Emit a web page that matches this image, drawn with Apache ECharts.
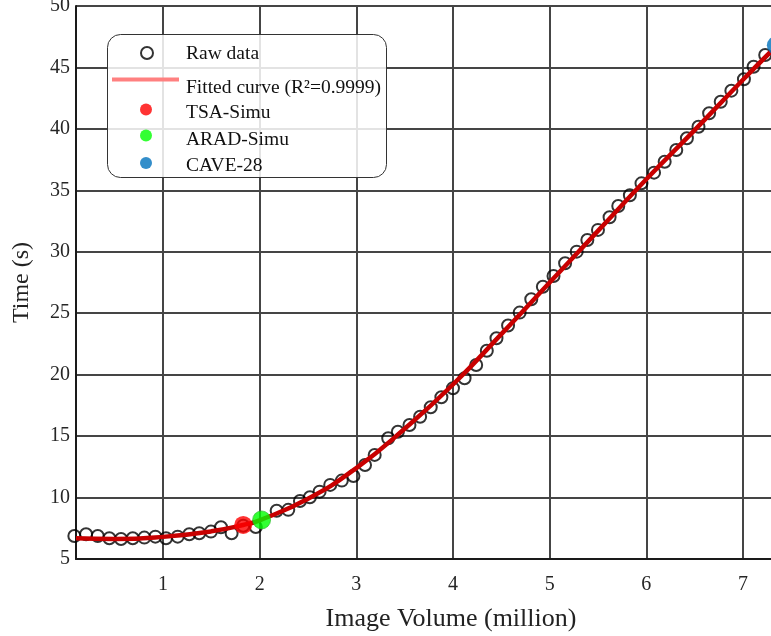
<!DOCTYPE html>
<html>
<head>
<meta charset="utf-8">
<script src="https://cdn.jsdelivr.net/npm/echarts@6/dist/echarts.min.js"></script>
<style>
  html, body { margin: 0; padding: 0; background: #fff; }
  #chart { width: 771px; height: 636px; }
</style>
</head>
<body>
<div id="chart"></div>
<script>
// raw measurements
var rawX = [0.083, 0.204, 0.325, 0.445, 0.566, 0.687, 0.807, 0.921, 1.031, 1.152, 1.272, 1.375, 1.496, 1.600, 1.710, 1.830, 1.960,
  2.176, 2.296, 2.417, 2.520, 2.620, 2.730, 2.850, 2.970, 3.090, 3.190,
  3.330, 3.430, 3.550, 3.660, 3.770, 3.880, 4.000, 4.120, 4.240, 4.350, 4.450, 4.570,
  4.690, 4.810, 4.930, 5.040, 5.160, 5.280, 5.390, 5.500, 5.620, 5.710, 5.830,
  5.950, 6.080, 6.190, 6.310, 6.420, 6.540, 6.650, 6.770, 6.880, 7.010, 7.110, 7.230];
var rawY = [6.87, 7.01, 6.87, 6.69, 6.63, 6.69, 6.74, 6.82, 6.69, 6.82, 7.01, 7.10, 7.23, 7.58, 7.10, 7.70, 7.60,
  8.93, 9.00, 9.72, 10.02, 10.48, 11.03, 11.38, 11.76, 12.65, 13.47,
  14.83, 15.36, 15.91, 16.58, 17.35, 18.16, 18.89, 19.71, 20.79, 21.95, 22.96, 24.00,
  25.05, 26.14, 27.16, 28.03, 29.07, 30.01, 30.96, 31.78, 32.81, 33.73, 34.60,
  35.57, 36.44, 37.33, 38.28, 39.24, 40.18, 41.27, 42.21, 43.11, 44.04, 45.06, 46.01];

// fitted curve
var fitX = [0.1, 0.5, 1.0, 1.5, 1.83, 2.0, 2.5, 3.0, 3.5, 4.0, 4.5, 5.0, 5.5, 6.0, 6.5, 7.0, 7.29];
var fitY = [6.68, 6.62, 6.8, 7.25, 7.77, 8.15, 9.9, 12.4, 15.6, 19.2, 23.3, 27.5, 31.7, 35.9, 39.9, 44.0, 46.3];

// datasets
var tsaPoint = [1.83, 7.77];
var aradPoint = [2.02, 8.18];
var cavePoint = [7.34, 46.8];

var xTicks = [1, 2, 3, 4, 5, 6, 7];
var fitName = 'Fitted curve (R\u00B2=0.9999)';

var serif = 'Liberation Serif';

function zip(xs, ys) {
  return xs.map(function (x, i) { return [x, ys[i]]; });
}

// legend made of separate pieces so icon and text can sit like matlab's
function iconLegend(name, left, top, w, h, icon, itemStyle) {
  return {
    left: left, top: top, padding: 0,
    itemWidth: w, itemHeight: h,
    selectedMode: false,
    formatter: function () { return ''; },
    textStyle: { fontSize: 2, lineHeight: 2 },
    data: [{ name: name, icon: icon, itemStyle: itemStyle }]
  };
}
function textLegend(name, top) {
  return {
    left: 180, top: top, padding: 0,
    itemWidth: 1, itemHeight: 1,
    selectedMode: false,
    textStyle: { fontFamily: serif, fontSize: 19.5, lineHeight: 20, color: '#111' },
    data: [{ name: name, icon: 'rect', itemStyle: { color: 'rgba(0,0,0,0)', borderWidth: 0 } }]
  };
}

var chart = echarts.init(document.getElementById('chart'));

var option = {
  animation: false,
  backgroundColor: '#fff',
  textStyle: { fontFamily: serif },
  grid: { left: 76, top: 6, right: 0, bottom: 77, outerBoundsMode: 'none' },
  graphic: [{
    type: 'rect',
    z: 3,
    shape: { x: 107.5, y: 34.5, width: 279, height: 143, r: 13 },
    style: { fill: 'rgba(255,255,255,0.85)', stroke: '#333', lineWidth: 1 }
  }],
  legend: [
    iconLegend('Raw data', 140, 46, 12, 12, 'circle', { color: 'rgba(255,255,255,0)', borderColor: '#000', borderWidth: 2 }),
    iconLegend(fitName, 112, 77.5, 67, 4, 'rect', { color: '#ff8080', borderWidth: 0 }),
    iconLegend('TSA-Simu', 140, 103.5, 12, 12, 'circle', { color: '#ff0000', borderWidth: 0 }),
    iconLegend('ARAD-Simu', 140, 129.5, 12, 12, 'circle', { color: '#00ff00', borderWidth: 0 }),
    iconLegend('CAVE-28', 140, 157, 12, 12, 'circle', { color: '#0072bd', borderWidth: 0 }),
    textLegend('Raw data', 44),
    textLegend(fitName, 78),
    textLegend('TSA-Simu', 103),
    textLegend('ARAD-Simu', 130),
    textLegend('CAVE-28', 156)
  ],
  xAxis: {
    type: 'value',
    min: 0.1,
    max: 7.29,
    name: 'Image Volume (million)',
    nameLocation: 'middle',
    nameGap: 47,
    nameTextStyle: { fontFamily: serif, fontSize: 26, color: '#222', padding: [0, 0, 0, 55] },
    axisLine: { show: true, onZero: false, lineStyle: { color: '#1a1a1a', width: 2 } },
    axisTick: { show: false, customValues: xTicks },
    axisLabel: { customValues: xTicks, margin: 16, fontFamily: serif, fontSize: 20, color: '#262626' },
    splitLine: { show: true, lineStyle: { color: '#454545', width: 2 } }
  },
  yAxis: {
    type: 'value',
    min: 5,
    max: 50,
    interval: 5,
    name: 'Time (s)',
    nameLocation: 'middle',
    nameGap: 42,
    nameTextStyle: { fontFamily: serif, fontSize: 24, color: '#222' },
    axisLine: { show: true, onZero: false, lineStyle: { color: '#1a1a1a', width: 2 } },
    axisTick: { show: false },
    axisLabel: { margin: 6, fontFamily: serif, fontSize: 20, color: '#262626' },
    splitLine: { show: true, lineStyle: { color: '#454545', width: 2 } }
  },
  series: [
    {
      name: 'Raw data',
      type: 'scatter',
      clip: false,
      z: 2,
      symbol: 'circle',
      symbolSize: 12,
      itemStyle: { color: 'rgba(255,255,255,0)', borderColor: '#000', borderWidth: 2 },
      data: zip(rawX, rawY)
    },
    {
      name: fitName,
      type: 'line',
      z: 3,
      smooth: true,
      symbol: 'none',
      lineStyle: { color: '#c80000', width: 4.5 },
      data: zip(fitX, fitY)
    },
    {
      name: 'TSA-Simu',
      type: 'scatter',
      clip: false,
      z: 4,
      symbolSize: 18,
      itemStyle: { color: '#ff0000' },
      data: [tsaPoint]
    },
    {
      name: 'ARAD-Simu',
      type: 'scatter',
      clip: false,
      z: 4,
      symbolSize: 18,
      itemStyle: { color: '#00ff00', borderColor: '#2bb52b', borderWidth: 0.8 },
      data: [aradPoint]
    },
    {
      name: 'CAVE-28',
      type: 'scatter',
      clip: false,
      z: 4,
      symbolSize: 18,
      itemStyle: { color: '#0072bd' },
      data: [cavePoint]
    }
  ]
};

chart.setOption(option);
</script>
</body>
</html>
